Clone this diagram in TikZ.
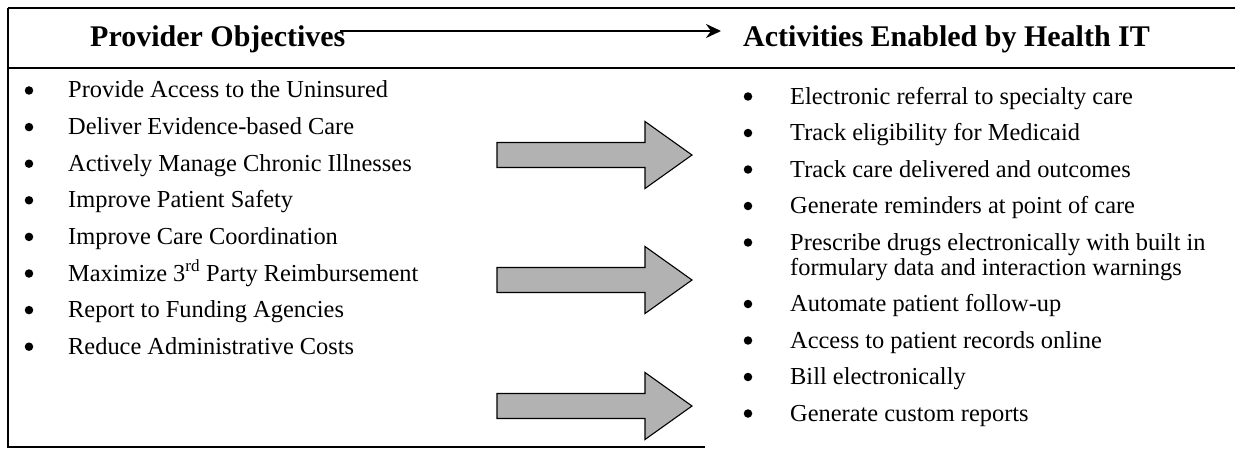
\documentclass[tikz,border=0pt]{standalone}
\usepackage{fontspec}
\setmainfont{Liberation Serif}
\usetikzlibrary{arrows.meta}
\tikzset{
  frameline/.style={line width=1.4pt, black},
  headtext/.style={anchor=base west, inner sep=0pt, font=\fontsize{30}{34}\selectfont\bfseries},
  itemtext/.style={anchor=base west, inner sep=0pt, font=\fontsize{24.4}{25}\selectfont},
  bulletdot/.style={circle, fill=black, inner sep=0pt, minimum size=8.5pt},
  blockarrow/.style={draw=black, line width=1.1pt, fill=black!30, line join=miter},
  flowarrow/.style={line width=2.6pt, -{Stealth[length=15pt,width=14pt,inset=5pt]}}
}
\begin{document}
\begin{tikzpicture}[x=1pt,y=-1pt]
\useasboundingbox (0,0) rectangle (1235,452);

% frame: top rule, header rule, left side and bottom rule
\draw[frameline] (8,8) -- (1235,8);
\draw[frameline] (8,68) -- (1235,68);
\draw[frameline] (8,8) -- (8,447) -- (705,447);

% column headings
\node[headtext] (hl) at (90,47) {Provider Objectives};
\node[headtext] (hr) at (743,47) {Activities Enabled by Health IT};
\coordinate (hs) at (340,31);
\coordinate (he) at (721,31);
\draw[flowarrow] (hs) -- (he);

% left list
\foreach \t [count=\i from 0] in {
  Provide Access to the Uninsured,
  Deliver Evidence-based Care,
  Actively Manage Chronic Illnesses,
  Improve Patient Safety,
  Improve Care Coordination,
  Maximize 3\textsuperscript{rd} Party Reimbursement,
  Report to Funding Agencies,
  Reduce Administrative Costs}{
  \node[bulletdot] (lb\i) at (29,98+36.6*\i-7.5) {};
  \node[itemtext] (lt\i) at (68,98+36.6*\i) {\t};
}

% right list
\foreach \t/\y [count=\i from 0] in {
  Electronic referral to specialty care/104,
  Track eligibility for Medicaid/140.5,
  Track care delivered and outcomes/177,
  Generate reminders at point of care/213.5,
  Prescribe drugs electronically with built in/250,
  Automate patient follow-up/311.5,
  Access to patient records online/348,
  Bill electronically/384.5,
  Generate custom reports/421}{
  \node[bulletdot] (rb\i) at (748,\y-7.5) {};
  \node[itemtext] (rt\i) at (790,\y) {\t};
}
% second line of the prescribing item
\node[itemtext] (rt4b) at (790,275) {formulary data and interaction warnings};

% block arrows between the lists
\foreach \c [count=\k] in {155,280,406}{
  \draw[blockarrow] (497,\c-12.5) -- (645,\c-12.5) -- (645,\c-33.5) -- (692,\c)
    -- (645,\c+33.5) -- (645,\c+12.5) -- (497,\c+12.5) -- cycle;
}
\end{tikzpicture}
\end{document}
